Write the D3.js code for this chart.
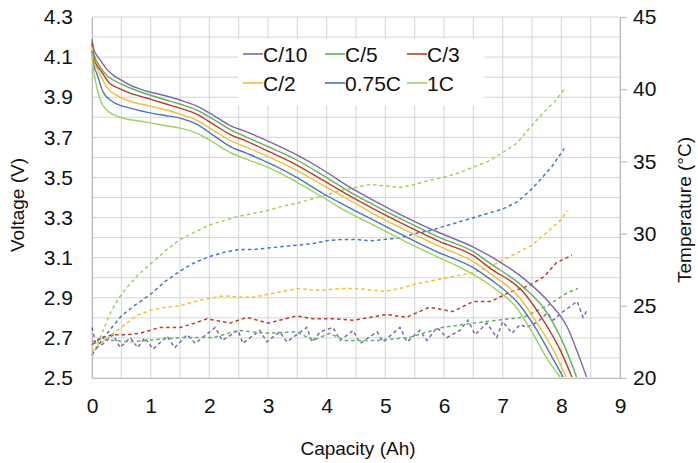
<!DOCTYPE html>
<html><head><meta charset="utf-8">
<script src="https://cdn.jsdelivr.net/npm/d3@7"></script>
<style>
html,body{margin:0;padding:0;background:#fff;}
svg text{font-family:"Liberation Sans",Arial,sans-serif;fill:#111;}
</style></head>
<body><svg id="chart" width="698" height="463"></svg>
<script>
// ---- data ----
const seriesNames = ["C/10","C/5","C/3","C/2","0.75C","1C"];
const seriesColors = ["#8064b4","#5ab55a","#c0392b","#f5be2e","#4677c8","#9bd35c"];
const xTicks = [0,1,2,3,4,5,6,7,8,9];
const vTicks = [2.5,2.7,2.9,3.1,3.3,3.5,3.7,3.9,4.1,4.3];
const tTicks = [20,25,30,35,40,45];

// voltage [capacity Ah, V]
const voltC10 = [[0,4.19],[0.03,4.14],[0.08,4.11],[0.14,4.086],[0.25,4.04],[0.36,4.01],[0.5,3.985],[0.65,3.96],[0.93,3.93],[1.22,3.91],[1.5,3.886],[1.79,3.856],[2.07,3.81],[2.35,3.76],[2.64,3.727],[3.03,3.677],[3.49,3.612],[3.94,3.537],[4.4,3.45],[4.79,3.387],[5.36,3.30],[5.93,3.223],[6.5,3.153],[6.9,3.088],[7.35,2.998],[7.8,2.874],[8.1,2.754],[8.28,2.625],[8.43,2.505]];
const voltC5 = [[0,4.18],[0.03,4.12],[0.08,4.08],[0.14,4.05],[0.25,4.01],[0.36,3.986],[0.5,3.965],[0.65,3.946],[0.93,3.916],[1.22,3.89],[1.5,3.866],[1.79,3.836],[2.07,3.79],[2.35,3.74],[2.64,3.70],[3.03,3.65],[3.49,3.587],[3.94,3.51],[4.4,3.427],[4.79,3.365],[5.36,3.28],[5.93,3.20],[6.5,3.13],[6.78,3.073],[7.35,2.954],[7.76,2.824],[8.03,2.675],[8.26,2.505]];
const voltC3 = [[0,4.17],[0.03,4.10],[0.08,4.06],[0.14,4.036],[0.3,3.97],[0.45,3.945],[0.65,3.92],[0.93,3.896],[1.22,3.87],[1.5,3.846],[1.79,3.815],[2.07,3.765],[2.35,3.715],[2.64,3.68],[3.03,3.627],[3.49,3.562],[3.94,3.485],[4.4,3.407],[4.79,3.345],[5.36,3.26],[5.93,3.18],[6.5,3.11],[6.78,3.048],[7.35,2.929],[7.69,2.789],[7.98,2.64],[8.18,2.505]];
const voltC2 = [[0,4.15],[0.03,4.08],[0.1,4.036],[0.25,3.95],[0.48,3.90],[0.7,3.875],[0.93,3.86],[1.22,3.84],[1.5,3.816],[1.79,3.785],[2.07,3.735],[2.35,3.685],[2.64,3.65],[3.03,3.60],[3.49,3.535],[3.94,3.46],[4.4,3.385],[4.79,3.32],[5.36,3.235],[5.93,3.155],[6.5,3.08],[6.78,3.023],[7.29,2.899],[7.63,2.754],[7.89,2.625],[8.08,2.505]];
const volt075C = [[0,4.13],[0.03,4.06],[0.08,4.02],[0.19,3.926],[0.36,3.876],[0.65,3.846],[0.93,3.826],[1.22,3.81],[1.5,3.796],[1.79,3.765],[2.07,3.71],[2.35,3.655],[2.64,3.62],[3.03,3.57],[3.49,3.50],[3.94,3.42],[4.23,3.373],[4.79,3.288],[5.36,3.203],[5.93,3.123],[6.5,3.05],[6.78,2.994],[7.29,2.864],[7.58,2.74],[7.84,2.605],[8.03,2.505]];
const volt1C = [[0,4.12],[0.02,4.05],[0.05,3.996],[0.14,3.886],[0.25,3.836],[0.48,3.80],[0.93,3.776],[1.22,3.76],[1.5,3.746],[1.79,3.72],[2.07,3.675],[2.35,3.625],[2.64,3.59],[3.03,3.547],[3.49,3.477],[3.94,3.40],[4.23,3.348],[4.79,3.263],[5.36,3.178],[5.93,3.098],[6.28,3.05],[6.78,2.964],[7.24,2.849],[7.51,2.724],[7.77,2.59],[7.98,2.505]];

// temperature [capacity Ah, °C]
const tempC10 = [[0,23.5],[0.08,22.1],[0.2,22.4],[0.36,23.0],[0.48,22.1],[0.65,22.8],[0.78,22.1],[0.9,22.8],[1.04,22.0],[1.28,22.9],[1.41,22.1],[1.62,23.0],[1.76,22.4],[2.1,23.5],[2.22,22.6],[2.49,23.3],[2.57,22.4],[2.86,23.3],[2.98,22.5],[3.2,23.2],[3.32,22.5],[3.66,23.5],[3.75,22.5],[3.89,23.2],[4.11,23.5],[4.23,22.6],[4.45,23.3],[4.57,22.4],[4.86,23.2],[4.96,22.5],[5.25,23.5],[5.37,22.5],[5.59,23.3],[5.71,22.6],[5.88,23.5],[6.05,22.8],[6.27,23.3],[6.41,24.0],[6.53,23.0],[6.73,23.8],[6.9,22.8],[7.0,23.9],[7.16,23.1],[7.3,23.7],[7.41,23.5],[7.6,23.9],[7.76,24.5],[7.86,24.0],[8.03,24.6],[8.27,25.3],[8.37,24.2],[8.44,24.7]];
const tempC5 = [[0,22.5],[0.15,22.7],[0.35,22.6],[0.65,22.5],[0.93,22.6],[1.5,22.8],[2.07,22.8],[2.5,23.3],[2.95,23.1],[3.49,23.2],[3.77,22.6],[4.05,23.1],[4.3,22.6],[4.85,22.6],[5.4,22.8],[5.97,23.5],[6.5,23.8],[6.9,24.0],[7.35,24.2],[7.76,25.0],[8.1,25.9],[8.28,26.2]];
const tempC3 = [[0,22.3],[0.15,22.8],[0.36,23.0],[0.6,23.0],[0.82,23.1],[1.16,23.5],[1.5,23.5],[1.75,23.8],[1.96,24.1],[2.35,23.8],[2.64,24.2],[3.0,23.8],[3.49,24.3],[3.77,24.1],[4.1,24.1],[4.45,24.0],[4.75,24.2],[5.02,24.4],[5.36,24.2],[5.75,24.9],[6.15,24.6],[6.5,25.3],[6.8,25.3],[7.1,25.9],[7.45,26.4],[7.7,27.0],[7.92,28.0],[8.18,28.5]];
const tempC2 = [[0,21.8],[0.15,22.4],[0.3,22.9],[0.5,23.5],[0.75,24.3],[1.0,24.7],[1.25,24.9],[1.5,25.0],[1.75,25.3],[2.0,25.5],[2.25,25.7],[2.5,25.6],[2.75,25.6],[3.0,25.8],[3.25,26.0],[3.5,26.2],[3.75,26.1],[4.0,26.1],[4.25,26.2],[4.5,26.2],[4.75,26.1],[5.0,26.0],[5.25,26.2],[5.5,26.5],[5.75,26.7],[6.0,26.9],[6.25,27.1],[6.5,27.3],[6.78,27.7],[7.12,28.4],[7.5,29.2],[7.8,30.25],[7.98,30.9],[8.1,31.6]];
const temp075C = [[0,21.6],[0.1,22.2],[0.2,22.8],[0.3,23.3],[0.5,24.3],[0.75,25.1],[1.0,25.8],[1.25,26.7],[1.5,27.4],[1.75,28.0],[2.0,28.4],[2.25,28.7],[2.5,28.9],[2.75,28.9],[3.0,29.0],[3.25,29.1],[3.5,29.2],[3.75,29.3],[4.0,29.5],[4.25,29.6],[4.5,29.6],[4.75,29.5],[5.0,29.6],[5.25,29.7],[5.5,30.0],[5.75,30.2],[6.0,30.5],[6.25,30.8],[6.5,31.1],[6.75,31.4],[7.0,31.7],[7.25,32.2],[7.5,33.1],[7.7,34.0],[7.85,34.7],[8.05,35.9]];
const temp1C = [[0,21.5],[0.1,22.4],[0.2,23.4],[0.3,24.4],[0.45,25.5],[0.6,26.3],[0.8,27.2],[1.0,27.9],[1.25,28.8],[1.5,29.6],[1.75,30.1],[2.0,30.6],[2.25,30.9],[2.5,31.2],[2.75,31.4],[3.0,31.6],[3.25,31.9],[3.5,32.1],[3.75,32.4],[4.0,32.7],[4.25,33.0],[4.5,33.2],[4.75,33.4],[5.0,33.3],[5.25,33.2],[5.5,33.4],[5.75,33.7],[6.0,33.9],[6.25,34.2],[6.5,34.6],[6.75,35.0],[7.0,35.6],[7.25,36.3],[7.5,37.5],[7.7,38.4],[7.9,39.2],[8.05,40.0]];

const voltSeries = [voltC10,voltC5,voltC3,voltC2,volt075C,volt1C];
const tempSeries = [tempC10,tempC5,tempC3,tempC2,temp075C,temp1C];

// ---- layout ----
const svg = d3.select("#chart");
const L = 92, R = 620, T = 17, B = 378;
const x = d3.scaleLinear().domain([0,9]).range([L,R]);
const yV = d3.scaleLinear().domain([2.5,4.3]).range([B,T]);
const yT = d3.scaleLinear().domain([20,45]).range([B,T]);
const gridCol = "#d4d4d4";

// grid
const g = svg.append("g");
g.selectAll("line.v").data(d3.range(0,9.01,0.5)).join("line")
  .attr("x1",d=>x(d)).attr("x2",d=>x(d)).attr("y1",T).attr("y2",B)
  .attr("stroke",gridCol).attr("stroke-width",1);
g.selectAll("line.h").data(d3.range(0,19).map(i=>2.5+i*0.1)).join("line")
  .attr("x1",L).attr("x2",R).attr("y1",d=>yV(d)).attr("y2",d=>yV(d))
  .attr("stroke",gridCol).attr("stroke-width",1);

// axes
const axCol = "#bdbdbd";
const xAxis = svg.append("g").attr("transform",`translate(0,${B})`)
  .call(d3.axisBottom(x).tickValues(xTicks).tickSize(0).tickPadding(20).tickFormat(d3.format("d")));
const yAxisL = svg.append("g").attr("transform",`translate(${L},0)`)
  .call(d3.axisLeft(yV).tickValues(vTicks).tickSize(0).tickPadding(19).tickFormat(d3.format(".1f")));
const yAxisR = svg.append("g").attr("transform",`translate(${R},0)`)
  .call(d3.axisRight(yT).tickValues(tTicks).tickSize(7).tickPadding(6).tickFormat(d3.format("d")));
[xAxis,yAxisL,yAxisR].forEach(a=>{
  a.select(".domain").attr("stroke",axCol).attr("stroke-width",1.2);
  a.selectAll(".tick line").attr("stroke",axCol).attr("stroke-width",1.2);
  a.selectAll("text").attr("font-size",21).attr("fill","#111").attr("font-family","Liberation Sans, Arial, sans-serif");
});

// lines
const lineV = d3.line().x(d=>x(d[0])).y(d=>yV(d[1])).curve(d3.curveMonotoneX);
const lineT = d3.line().x(d=>x(d[0])).y(d=>yT(d[1])).curve(d3.curveLinear);
svg.append("g").selectAll("path").data(tempSeries).join("path")
  .attr("d",lineT).attr("fill","none")
  .attr("stroke",(d,i)=>seriesColors[i]).attr("stroke-width",1.5)
  .attr("stroke-dasharray","3.5,3");
svg.append("g").selectAll("path").data(voltSeries).join("path")
  .attr("d",lineV).attr("fill","none")
  .attr("stroke",(d,i)=>seriesColors[i]).attr("stroke-width",1.4);

// legend
const lg = svg.append("g");
lg.append("rect").attr("x",238).attr("y",39).attr("width",246).attr("height",66).attr("fill","#fff");
const colX = [243,325,407], rowY = [54,83];
seriesNames.forEach((n,i)=>{
  const cx = colX[i%3], cy = rowY[Math.floor(i/3)];
  lg.append("line").attr("x1",cx).attr("x2",cx+20).attr("y1",cy).attr("y2",cy)
    .attr("stroke",seriesColors[i]).attr("stroke-width",1.6);
  lg.append("text").attr("x",cx+20).attr("y",cy).attr("dy","0.36em")
    .attr("font-size",21).text(n);
});

// titles
svg.append("text").attr("x",358).attr("y",455).attr("text-anchor","middle")
  .attr("font-size",19).text("Capacity (Ah)");
svg.append("text").attr("transform","translate(24,205) rotate(-90)").attr("text-anchor","middle")
  .attr("font-size",19).text("Voltage (V)");
svg.append("text").attr("transform","translate(691,210) rotate(-90)").attr("text-anchor","middle")
  .attr("font-size",19).text("Temperature (°C)");
</script></body></html>
